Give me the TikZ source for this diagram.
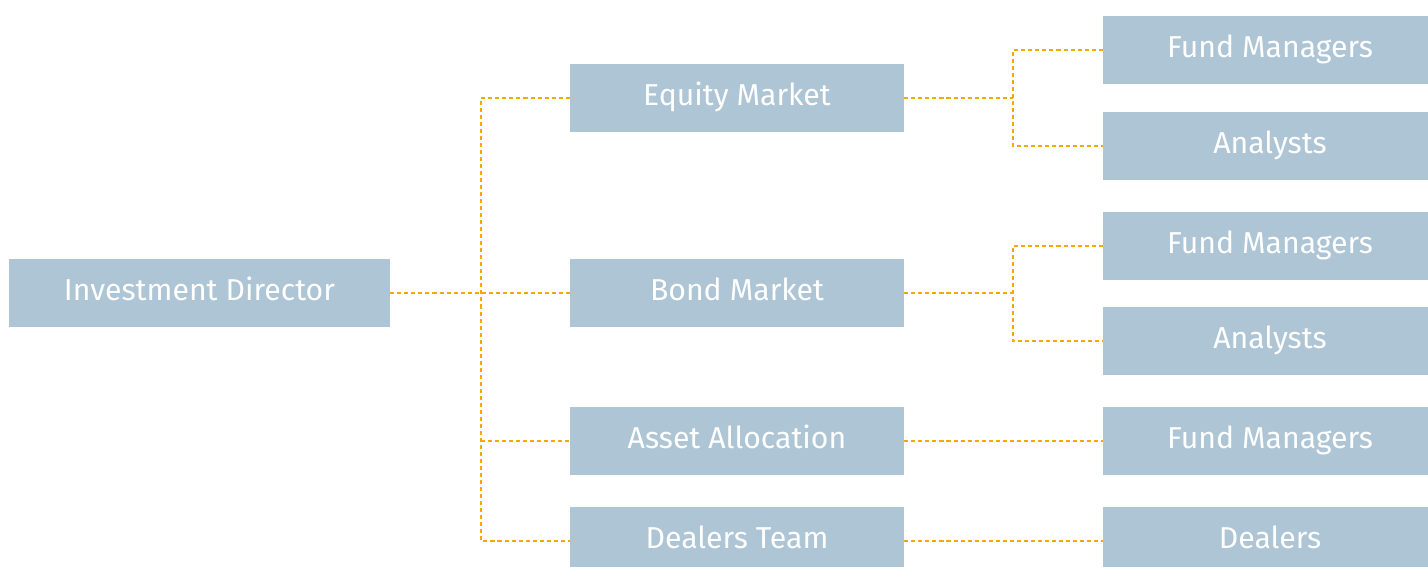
\documentclass[tikz,border=0pt]{standalone}
\usepackage{fontspec}
\setmainfont{Fira Sans}
\definecolor{boxblue}{HTML}{ADC5D4}
\definecolor{linkorange}{HTML}{F5A800}

\begin{document}
\begin{tikzpicture}
[x=0.02cm, y=-0.02cm,
  boxDecorate/.style={shape=rectangle,fill=boxblue,text=white,inner sep=0pt,
    minimum height=1.37cm,text height=0.9em,text depth=0em,
    font=\fontsize{17.2}{20}\selectfont},
  dirDecorate/.style={boxDecorate,minimum width=7.62cm},
  midDecorate/.style={boxDecorate,minimum width=6.68cm},
  lineDecorate/.style={-,draw=linkorange,line width=1.2pt,dash pattern=on 2.3pt off 1.7pt}]
\clip (0,0) rectangle (1428,567);
%% nodes or boxes
\node (dir) at (199.5,293) [dirDecorate] {Investment Director};
\foreach \nodename/\x/\y/\txt in {
  eq/737/98/Equity Market, bm/737/293/Bond Market,
  aa/737/441/Asset Allocation, dt/737/541/Dealers Team,
  eqfm/1270/50/Fund Managers, eqan/1270/146/Analysts,
  bmfm/1270/246/Fund Managers, bman/1270/341/Analysts,
  aafm/1270/441/Fund Managers, dtdl/1270/541/Dealers}
{
  \node (\nodename) at (\x,\y) [midDecorate] {\txt};
}
%% joints
\coordinate (trunk) at (481,293);
\coordinate (eqjoint) at (1013,98);
\coordinate (bmjoint) at (1013,293);
%% edges or lines
\draw[lineDecorate] (dir.east) -- (trunk) -- (bm.west);
\draw[lineDecorate] (eq.west) -| (trunk) |- (dt.west);
\draw[lineDecorate] (trunk |- aa.west) -- (aa.west);
\draw[lineDecorate] (eq.east) -- (eqjoint);
\draw[lineDecorate] (eqfm.west) -| (eqjoint) |- (eqan.west);
\draw[lineDecorate] (bm.east) -- (bmjoint);
\draw[lineDecorate] (bmfm.west) -| (bmjoint) |- (bman.west);
\path
\foreach \startnode/\endnode in {aa/aafm, dt/dtdl}
{
  (\startnode) edge[lineDecorate] (\endnode)
};
\end{tikzpicture}
\end{document}
